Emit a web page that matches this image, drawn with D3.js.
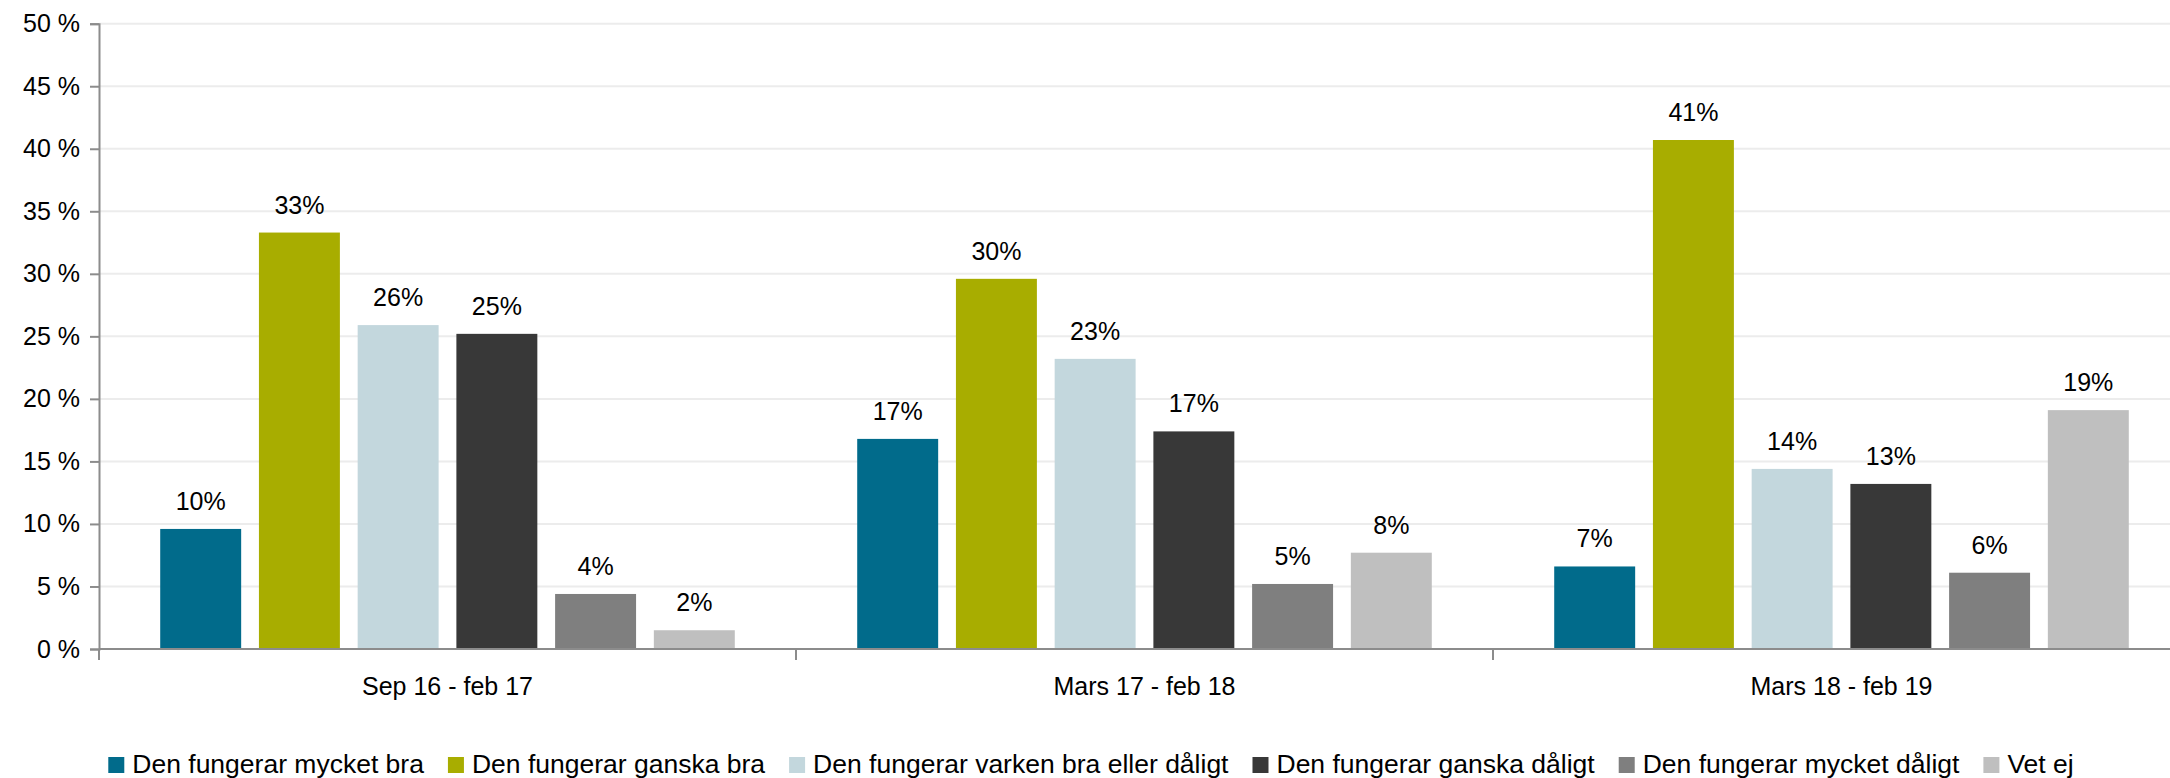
<!DOCTYPE html>
<html lang="sv">
<head>
<meta charset="UTF-8">
<title>Den fungerar</title>
<script src="https://d3js.org/d3.v7.min.js"></script>
<style>
  body { margin: 0; background: #fff; }
  svg { display: block; font-family: 'Liberation Sans', Arial, sans-serif; }
  .grid line { stroke: #ececec; stroke-width: 2; }
  .axis-line { stroke: #8c8c8c; stroke-width: 2; }
  text { fill: #000; }
</style>
</head>
<body>
<svg width="2170" height="778"></svg>
<script>
// data
const periods = ["Sep 16 - feb 17", "Mars 17 - feb 18", "Mars 18 - feb 19"];
const answers = [
  "Den fungerar mycket bra",
  "Den fungerar ganska bra",
  "Den fungerar varken bra eller dåligt",
  "Den fungerar ganska dåligt",
  "Den fungerar mycket dåligt",
  "Vet ej"
];
const colors = ["#016b8b", "#a8ad00", "#c3d7dd", "#383838", "#7f7f7f", "#bfbfbf"];
// one row per period, one value per answer (percent)
const sep16 = [9.6, 33.3, 25.9, 25.2, 4.4, 1.5];
const mars17 = [16.8, 29.6, 23.2, 17.4, 5.2, 7.7];
const mars18 = [6.6, 40.7, 14.4, 13.2, 6.1, 19.1];
const values = [sep16, mars17, mars18];
const yTicks = [0, 5, 10, 15, 20, 25, 30, 35, 40, 45, 50];

const svg = d3.select("svg");
const mLeft = 99, mRight = 2190, mTop = 23.7, mBottom = 649;

const x0 = d3.scaleBand().domain(periods).range([mLeft, mRight]);
const x1 = d3.scaleBand().domain(answers).range([0, x0.bandwidth()])
  .paddingInner(0.18).paddingOuter(0.62);
const y = d3.scaleLinear().domain([0, 50]).range([mBottom, mTop]);
const color = d3.scaleOrdinal().domain(answers).range(colors);

// gridlines
svg.append("g").attr("class", "grid")
  .selectAll("line").data(yTicks.filter(d => d > 0)).join("line")
  .attr("x1", mLeft).attr("x2", mRight)
  .attr("y1", d => y(d)).attr("y2", d => y(d));

// y axis
const yAxis = svg.append("g")
  .attr("transform", `translate(${mLeft},0)`)
  .call(d3.axisLeft(y).tickValues(yTicks).tickSize(9).tickPadding(10)
    .tickFormat(d => d + " %"));
yAxis.select(".domain").attr("stroke", "#8c8c8c").attr("stroke-width", 2);
yAxis.selectAll(".tick line").attr("stroke", "#8c8c8c").attr("stroke-width", 2);
yAxis.selectAll("text").attr("font-size", 25).attr("fill", "#000")
  .attr("font-family", "'Liberation Sans', Arial, sans-serif");

// bars
const groups = svg.append("g").selectAll("g").data(periods).join("g")
  .attr("transform", d => `translate(${x0(d)},0)`);

groups.selectAll("rect")
  .data((p, i) => answers.map((a, j) => ({ a, v: values[i][j] })))
  .join("rect")
  .attr("x", d => x1(d.a))
  .attr("width", x1.bandwidth())
  .attr("y", d => y(d.v))
  .attr("height", d => y(0) - y(d.v))
  .attr("fill", d => color(d.a));

groups.selectAll("text")
  .data((p, i) => answers.map((a, j) => ({ a, v: values[i][j] })))
  .join("text")
  .attr("x", d => x1(d.a) + x1.bandwidth() / 2)
  .attr("y", d => y(d.v) - 19)
  .attr("text-anchor", "middle")
  .attr("font-size", 25)
  .text(d => Math.round(d.v) + "%");

// x axis
svg.append("line").attr("class", "axis-line")
  .attr("x1", mLeft).attr("x2", mRight).attr("y1", mBottom).attr("y2", mBottom);
svg.append("g").selectAll("line").data(periods.slice(1).concat(["_end"])).join("line")
  .attr("class", "axis-line")
  .attr("x1", d => d === "_end" ? mRight : x0(d))
  .attr("x2", d => d === "_end" ? mRight : x0(d))
  .attr("y1", mBottom).attr("y2", mBottom + 11);
svg.append("line").attr("class", "axis-line")
  .attr("x1", mLeft).attr("x2", mLeft).attr("y1", mBottom).attr("y2", mBottom + 11);

svg.append("g").selectAll("text").data(periods).join("text")
  .attr("x", d => x0(d) + x0.bandwidth() / 2)
  .attr("y", 695)
  .attr("text-anchor", "middle")
  .attr("font-size", 25)
  .text(d => d);

// legend
const legend = svg.append("g");
const items = legend.selectAll("g").data(answers).join("g");
items.append("rect").attr("width", 16).attr("height", 16).attr("y", -16)
  .attr("fill", d => color(d));
items.append("text").attr("x", 24).attr("y", 0)
  .attr("font-size", 26.5).text(d => d);

let xpos = 0;
items.each(function () {
  const w = this.querySelector("text").getComputedTextLength();
  d3.select(this).attr("transform", `translate(${xpos},0)`);
  xpos += 24 + w + 24;
});
const total = xpos - 24;
legend.attr("transform", `translate(${1091 - total / 2},773)`);
</script>
</body>
</html>
